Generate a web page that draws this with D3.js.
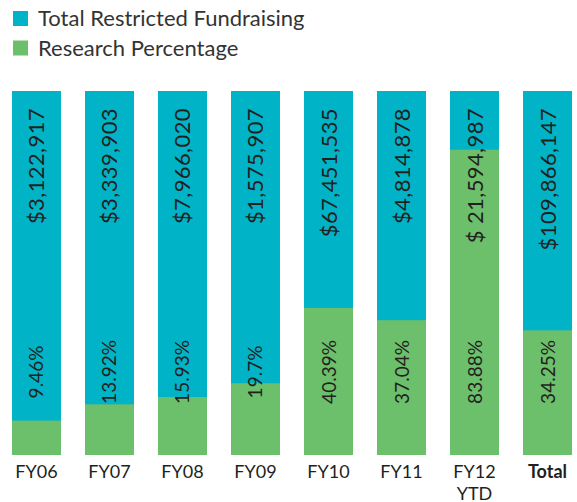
<!DOCTYPE html>
<html>
<head>
<meta charset="utf-8">
<script src="https://cdn.jsdelivr.net/npm/d3@7"></script>
<style>
  body { margin: 0; background: #fff; }
  .chart text { font-family: Lato, "Open Sans", sans-serif; fill: #231f20; }
</style>
</head>
<body>
<div class="chart"></div>
<script>
// data
var categories = ["FY06", "FY07", "FY08", "FY09", "FY10", "FY11", "FY12 YTD", "Total"];
var totalLabels = ["$3,122,917", "$3,339,903", "$7,966,020", "$1,575,907", "$67,451,535", "$4,814,878", "$ 21,594,987", "$109,866,147"];
var researchPct = [9.46, 13.92, 15.93, 19.7, 40.39, 37.04, 83.88, 34.25];
var pctLabels = ["9.46%", "13.92%", "15.93%", "19.7%", "40.39%", "37.04%", "83.88%", "34.25%"];
var seriesNames = ["Total Restricted Fundraising", "Research Percentage"];
var colors = ["#00b3c7", "#6cbf6b"];

var width = 577, height = 502;
var svg = d3.select(".chart").append("svg")
  .attr("width", width)
  .attr("height", height);

var xScale = d3.scaleBand()
  .domain(categories)
  .range([12, 572])
  .paddingInner(0.329)
  .paddingOuter(0);

var yScale = d3.scaleLinear().domain([0, 100]).range([455, 91]);

// legend
var legend = svg.append("g").attr("class", "legend");
seriesNames.forEach(function (name, i) {
  var g = legend.append("g").attr("transform", "translate(13," + (11 + i * 29.5) + ")");
  g.append("rect").attr("width", 15).attr("height", 15).attr("fill", colors[i]);
  g.append("text").attr("x", 25).attr("y", 15)
    .style("font-size", "22px")
    .style("fill", "#333")
    .text(name);
});

var rows = categories.map(function (c, i) {
  return { cat: c, total: totalLabels[i], pct: researchPct[i], pctLabel: pctLabels[i] };
});

var bars = svg.append("g").selectAll("g").data(rows).enter().append("g");

// full bar
bars.append("rect")
  .attr("x", function (d) { return xScale(d.cat); })
  .attr("y", yScale(100))
  .attr("width", xScale.bandwidth())
  .attr("height", yScale(0) - yScale(100))
  .attr("fill", colors[0]);

// research portion
bars.append("rect")
  .attr("x", function (d) { return xScale(d.cat); })
  .attr("y", function (d) { return yScale(d.pct); })
  .attr("width", xScale.bandwidth())
  .attr("height", function (d) { return yScale(0) - yScale(d.pct); })
  .attr("fill", colors[1]);

// dollar labels
bars.append("text")
  .attr("transform", function (d) {
    return "translate(" + (xScale(d.cat) + xScale.bandwidth() / 2 + 8) + "," + (yScale(100) + 17) + ") rotate(-90)";
  })
  .attr("text-anchor", "end")
  .style("font-size", "22px")
  .style("letter-spacing", "0.4px")
  .text(function (d) { return d.total; });

// percentage labels
bars.append("text")
  .attr("transform", function (d) {
    return "translate(" + (xScale(d.cat) + xScale.bandwidth() / 2 + 7) + ",372) rotate(-90)";
  })
  .attr("text-anchor", "middle")
  .style("font-size", "19px")
  .text(function (d) { return d.pctLabel; });

// x axis
var xAxis = svg.append("g")
  .attr("class", "xAxis")
  .attr("transform", "translate(0,460)")
  .call(d3.axisBottom(xScale).tickSize(0).tickPadding(0));
xAxis.select(".domain").remove();
xAxis.selectAll("text")
  .attr("y", 18)
  .attr("dy", null)
  .style("font-size", "18px")
  .style("font-weight", function (d) { return d === "Total" ? "bold" : "normal"; })
  .each(function (d) {
    var parts = d.split(" ");
    if (parts.length > 1) {
      var t = d3.select(this).text(null);
      parts.forEach(function (p, i) {
        t.append("tspan").attr("x", 0).attr("dy", i === 0 ? 0 : 22).text(p);
      });
    }
  });
</script>
</body>
</html>
